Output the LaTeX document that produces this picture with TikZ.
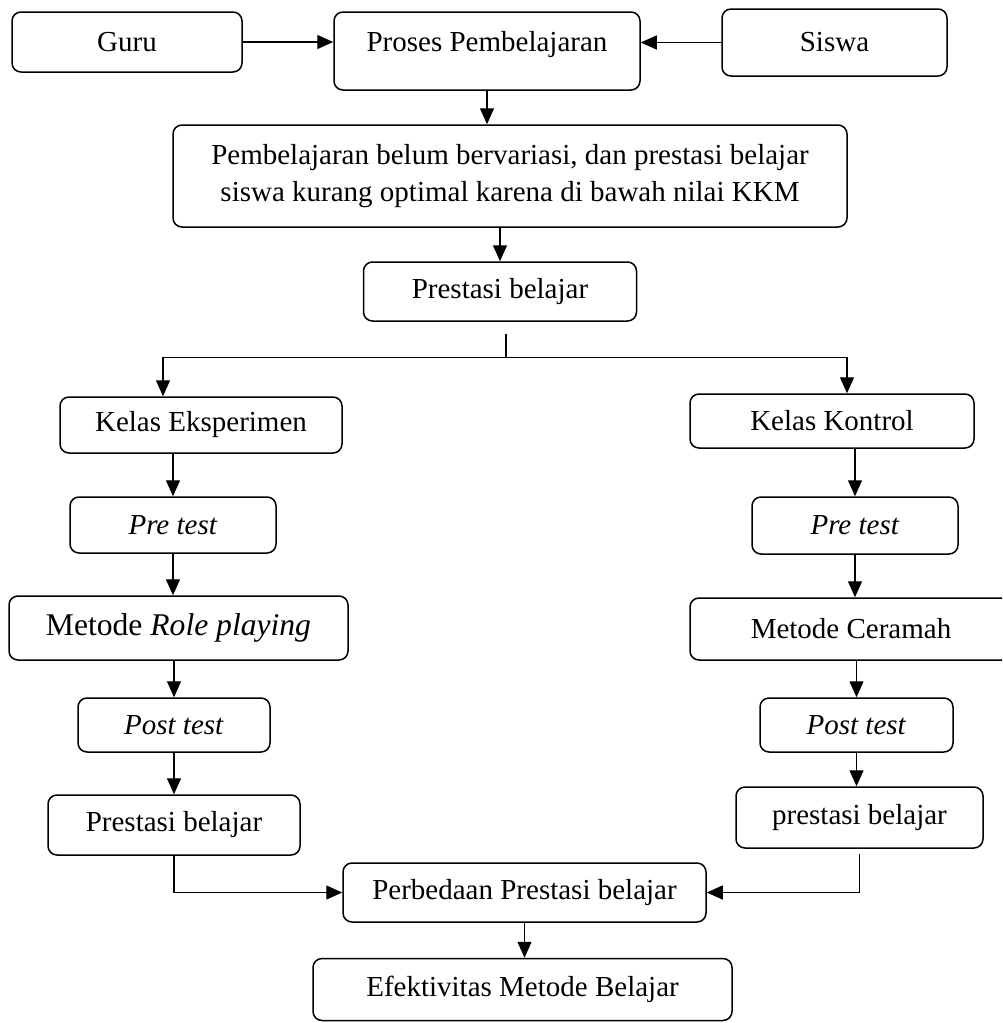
\documentclass[tikz,border=0pt]{standalone}
\usepackage{fontspec}
\setmainfont{Liberation Serif}
\usetikzlibrary{arrows.meta}

\begin{document}
\begin{tikzpicture}[
    x=0.5pt, y=-0.5pt,
    every node/.style={draw, rounded corners=4.5pt, line width=0.75pt, align=center, inner sep=0pt, font=\fontsize{14.5}{18.5}\selectfont},
    panah/.style={-{Triangle[length=8pt, width=7pt]}, line width=0.65pt}
]
\clip (0,0) rectangle (1002,1023);

% baris atas
\node[minimum width=115pt, minimum height=30pt] (guru) at (127,42) {Guru};
\node[minimum width=153pt, text height=19.5pt, text depth=19.5pt] (proses) at (487,51) {Proses Pembelajaran};
\node[minimum width=112.5pt, minimum height=33.5pt] (siswa) at (834.5,42.5) {Siswa};
\node[minimum width=337pt, minimum height=51pt] (masalah) at (510,176) {Pembelajaran belum bervariasi, dan prestasi belajar\\siswa kurang optimal karena di bawah nilai KKM};
\node[minimum width=136.5pt, minimum height=29.5pt] (prestasi) at (500,291.5) {Prestasi belajar};

% kelas eksperimen
\node[minimum width=141pt, minimum height=28pt] (kelasE) at (201,425) {Kelas Eksperimen};
\node[minimum width=103pt, minimum height=28pt] (preE) at (173,525) {\textit{Pre test}};
\node[minimum width=169.5pt, minimum height=32pt, font=\fontsize{15.8}{19}\selectfont] (metodeE) at (178.5,628) {Metode \textit{Role playing}};
\node[minimum width=96pt, minimum height=27pt] (postE) at (174,725) {\textit{Post test}};
\node[minimum width=126pt, minimum height=30pt] (hasilE) at (174,825) {Prestasi belajar};

% kelas kontrol
\node[minimum width=142pt, minimum height=27pt] (kelasK) at (832,421) {Kelas Kontrol};
\node[minimum width=103pt, minimum height=28.5pt] (preK) at (855,525.5) {\textit{Pre test}};
\node[minimum width=161pt, minimum height=31pt] (metodeK) at (851,629) {Metode Ceramah};
\node[minimum width=96.5pt, minimum height=27pt] (postK) at (856.5,725) {\textit{Post test}};
\node[minimum width=123.5pt, minimum height=30.5pt] (hasilK) at (859.5,817.5) {prestasi belajar};

% hasil akhir
\node[minimum width=181.5pt, minimum height=29.5pt] (beda) at (524.5,892.5) {Perbedaan Prestasi belajar};
\node[minimum width=209.5pt, minimum height=31pt] (efektif) at (522.5,989.5) {Efektivitas Metode Belajar};

% panah
\draw[panah] (guru.east) -- (guru.east -| proses.west);
\draw[panah] (siswa.west) -- (siswa.west -| proses.east);
\draw[panah] (proses.south) -- (proses.south |- masalah.north);
\draw[panah] (masalah.south -| prestasi.north) -- (prestasi.north);
\draw[line width=0.65pt] ([xshift=3pt, yshift=-6pt]prestasi.south) -- ++(0,24) coordinate (cabang);
\draw[panah] (cabang) -| ([xshift=-19pt]kelasE.north);
\draw[panah] (cabang) -| ([xshift=7.5pt]kelasK.north);

\draw[panah] (kelasE.south -| preE.north) -- (preE.north);
\draw[panah] (preE.south) -- (preE.south |- metodeE.north);
\draw[panah] (metodeE.south -| postE.north) -- (postE.north);
\draw[panah] (postE.south) -- (postE.south |- hasilE.north);
\draw[panah] (hasilE.south) |- (beda.west);

\draw[panah] (kelasK.south -| preK.north) -- (preK.north);
\draw[panah] (preK.south) -- (preK.south |- metodeK.north);
\draw[panah] (metodeK.south -| postK.north) -- (postK.north);
\draw[panah] (postK.south) -- (postK.south |- hasilK.north);
\draw[panah] ([yshift=-2.5pt]hasilK.south) |- (beda.east);

\draw[panah] (beda.south) -- (beda.south |- efektif.north);
\end{tikzpicture}
\end{document}
